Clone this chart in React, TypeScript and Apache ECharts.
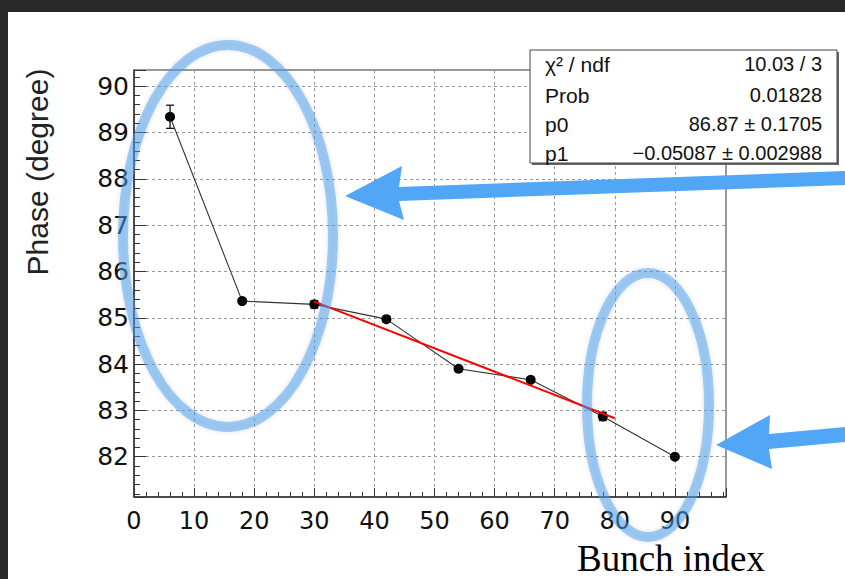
import React, { useEffect, useRef } from "react";
import * as echarts from "echarts";

const bunchIndex = [6, 18, 30, 42, 54, 66, 78, 90];
const phase = [89.34, 85.36, 85.29, 84.97, 83.9, 83.66, 82.87, 82.0];
const phaseErr = [0.25, 0.04, 0.08, 0.06, 0.04, 0.05, 0.09, 0.03];
const fitX = [30, 80];
const fitY = [85.35, 82.83];
const statLabels = ["χ² / ndf", "Prob", "p0", "p1"];
const statValues = ["10.03 / 3", "0.01828", "86.87 ± 0.1705", "−0.05087 ± 0.002988"];

const SANS = "'Liberation Sans', Arial, Helvetica, sans-serif";
const WIDE = "'DejaVu Sans', 'Liberation Sans', sans-serif";

export default function App() {
  const ref = useRef<HTMLDivElement>(null);
  useEffect(() => {
    if (!ref.current) return;
    const chart = echarts.init(ref.current, null, { renderer: "svg" });
    const points = bunchIndex.map((x, i) => [x, phase[i]]);
    const errs = bunchIndex.map((x, i) => [x, phase[i], phaseErr[i]]);
    const fit = fitX.map((x, i) => [x, fitY[i]]);
    const blue = "rgba(74,160,240,0.5)";
    const arrowBlue = "#52a6f6";
    const statText: any[] = [];
    const rowY = [64, 95, 124, 153];
    statLabels.forEach((t, i) => {
      statText.push({
        type: "text",
        z: 101,
        style: { text: t, x: 545, y: rowY[i], fill: "#111", font: `21px ${SANS}`, textAlign: "left", textVerticalAlign: "middle", align: "left", verticalAlign: "middle" },
      });
      statText.push({
        type: "text",
        z: 101,
        style: { text: statValues[i], x: 822, y: rowY[i], fill: "#111", font: `20px ${SANS}`, textAlign: "right", textVerticalAlign: "middle", align: "right", verticalAlign: "middle" },
      });
    });
    const option: any = {
      animation: false,
      backgroundColor: "#ffffff",
      grid: { left: 134, right: 119, top: 70, bottom: 82, show: true, borderColor: "#333", borderWidth: 1, backgroundColor: "transparent" },
      xAxis: {
        type: "value",
        min: 0,
        max: 98.5,
        interval: 10,
        axisLine: { show: true, lineStyle: { color: "#333", width: 1.5 } },
        axisTick: { show: true, inside: true, length: 9, lineStyle: { color: "#333" } },
        minorTick: { show: true, splitNumber: 5, length: 5, lineStyle: { color: "#333" } },
        axisLabel: { showMaxLabel: false, fontSize: 24, color: "#111", fontFamily: WIDE, margin: 12 },
        splitLine: { show: true, lineStyle: { color: "#999", type: [3, 3], width: 1 } },
      },
      yAxis: {
        type: "value",
        min: 81.13,
        max: 90.35,
        splitNumber: 9,
        minInterval: 1,
        maxInterval: 1,
        axisLine: { show: true, lineStyle: { color: "#333", width: 1.5 } },
        axisTick: { show: true, inside: true, length: 12, lineStyle: { color: "#333" } },
        minorTick: { show: true, splitNumber: 5, length: 6, lineStyle: { color: "#333" } },
        axisLabel: { showMinLabel: false, showMaxLabel: false, fontSize: 25, color: "#111", fontFamily: WIDE, margin: 5 },
        splitLine: { show: true, lineStyle: { color: "#999", type: [3, 3], width: 1 } },
      },
      series: [
        {
          type: "line",
          data: points,
          symbol: "circle",
          symbolSize: 10,
          itemStyle: { color: "#000" },
          lineStyle: { color: "#333", width: 1.1 },
          z: 3,
        },
        {
          type: "custom",
          data: errs,
          encode: { x: 0, y: 1 },
          z: 4,
          renderItem: (params: any, api: any) => {
            const x = api.value(0);
            const y = api.value(1);
            const e = api.value(2);
            const top = api.coord([x, y + e]);
            const bot = api.coord([x, y - e]);
            const cap = 4;
            const st = { stroke: "#111", lineWidth: 1.3 };
            return {
              type: "group",
              children: [
                { type: "line", shape: { x1: top[0], y1: top[1], x2: bot[0], y2: bot[1] }, style: st },
                { type: "line", shape: { x1: top[0] - cap, y1: top[1], x2: top[0] + cap, y2: top[1] }, style: st },
                { type: "line", shape: { x1: bot[0] - cap, y1: bot[1], x2: bot[0] + cap, y2: bot[1] }, style: st },
              ],
            };
          },
        },
        {
          type: "line",
          data: fit,
          symbol: "none",
          lineStyle: { color: "#ff0000", width: 2 },
          z: 5,
        },
      ],
      graphic: [
        { type: "rect", z: 100, shape: { x: 0, y: 0, width: 845, height: 12 }, style: { fill: "#282828" } },
        { type: "rect", z: 100, shape: { x: 0, y: 0, width: 8, height: 579 }, style: { fill: "#282828" } },
        { type: "rect", z: 100, shape: { x: 532, y: 52, width: 307, height: 113 }, style: { fill: "#666" } },
        { type: "rect", z: 100, shape: { x: 530, y: 50, width: 307, height: 113 }, style: { fill: "#fff", stroke: "#444", lineWidth: 1 } },
        ...statText,
        {
          type: "ellipse",
          z: 110,
          shape: { cx: 228, cy: 236, rx: 105, ry: 191 },
          style: { fill: "none", stroke: blue, lineWidth: 10, shadowBlur: 4, shadowColor: "rgba(0,0,0,0.25)" },
        },
        {
          type: "ellipse",
          z: 110,
          shape: { cx: 648, cy: 405, rx: 61, ry: 132 },
          style: { fill: "none", stroke: blue, lineWidth: 10, shadowBlur: 4, shadowColor: "rgba(0,0,0,0.25)" },
        },
        {
          type: "polygon",
          z: 111,
          shape: { points: [[345, 196], [402, 166], [399, 187], [845, 171], [845, 185], [399, 201], [404, 220]] },
          style: { fill: arrowBlue },
        },
        {
          type: "polygon",
          z: 111,
          shape: { points: [[716, 445], [770, 415], [769, 434], [845, 427], [845, 442], [769, 449], [772, 469]] },
          style: { fill: arrowBlue },
        },
        {
          type: "text",
          z: 111,
          rotation: Math.PI / 2,
          x: 37,
          y: 172,
          style: { text: "Phase (degree)", x: 0, y: 0, fill: "#222", font: `30px ${SANS}`, textAlign: "center", textVerticalAlign: "middle", align: "center", verticalAlign: "middle" },
        },
        {
          type: "text",
          z: 111,
          style: { text: "Bunch index", x: 671, y: 558, fill: "#000", font: `37px 'Liberation Serif', 'Times New Roman', serif`, textAlign: "center", textVerticalAlign: "middle", align: "center", verticalAlign: "middle" },
        },
      ],
    };
    chart.setOption(option);
    return () => chart.dispose();
  }, []);
  return <div ref={ref} style={{ position: "fixed", left: 0, top: 0, width: 845, height: 579 }} />;
}
